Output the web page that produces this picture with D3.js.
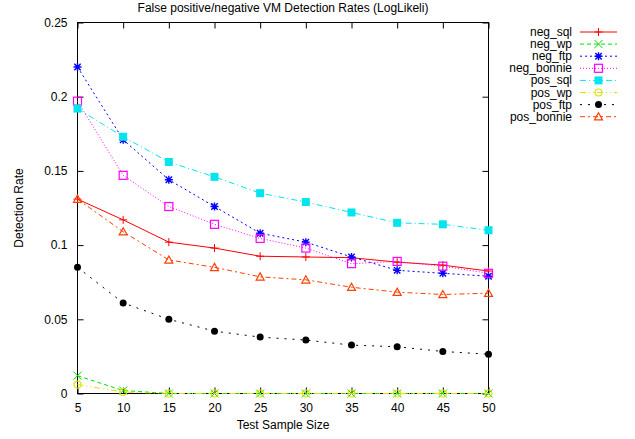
<!DOCTYPE html>
<html><head><meta charset="utf-8">
<script src="https://cdn.jsdelivr.net/npm/d3@7"></script>
<style>body{margin:0;background:#fff}svg{display:block}text{font-family:"Liberation Sans",Arial,sans-serif;}</style>
</head><body><svg id="c" width="635" height="439"></svg>
<script>
const sampleSizes = [5,10,15,20,25,30,35,40,45,50];
const yTicks = [0,0.05,0.1,0.15,0.2,0.25];
const yTickLabels = ["0","0.05","0.1","0.15","0.2","0.25"];
const seriesNames = ["neg_sql","neg_wp","neg_ftp","neg_bonnie","pos_sql","pos_wp","pos_ftp","pos_bonnie"];
const neg_sql    = [0.131,0.117,0.102,0.098,0.0925,0.092,0.0915,0.0885,0.0865,0.0825];
const neg_wp     = [0.012,0.002,0,0,0,0,0,0,0,0];
const neg_ftp    = [0.220,0.171,0.144,0.126,0.108,0.102,0.092,0.083,0.081,0.079];
const neg_bonnie = [0.197,0.147,0.126,0.114,0.1045,0.098,0.0875,0.089,0.0858,0.081];
const pos_sql    = [0.192,0.173,0.156,0.146,0.135,0.129,0.122,0.115,0.114,0.110];
const pos_wp     = [0.006,0.001,0,0,0,0,0,0,0,0];
const pos_ftp    = [0.085,0.061,0.050,0.042,0.038,0.036,0.0326,0.0315,0.0283,0.0265];
const pos_bonnie = [0.131,0.109,0.090,0.085,0.0786,0.0766,0.0716,0.0683,0.0667,0.0676];
const seriesValues = [neg_sql,neg_wp,neg_ftp,neg_bonnie,pos_sql,pos_wp,pos_ftp,pos_bonnie];

const styles = [
  {c:"#ff0000", d:null, m:"plus"},
  {c:"#00e000", d:"4,3", m:"x"},
  {c:"#0000ff", d:"2,3", m:"star"},
  {c:"#ff00ff", d:"1,2", m:"osq"},
  {c:"#00e5ee", d:"6,3,1,3", m:"fsq"},
  {c:"#e0e000", d:"6,3,1,3,1,3", m:"ocirc"},
  {c:"#000000", d:"2,6", m:"fcirc"},
  {c:"#ff4000", d:"5,3,2,3", m:"tri"}
];

const svg = d3.select("#c");
const L=77.5, R=488.5, T=22.5, B=393.5;
const x = d3.scaleLinear().domain([5,50]).range([L,R]);
const y = d3.scaleLinear().domain([0,0.25]).range([B,T]);

// frame
svg.append("rect").attr("x",L).attr("y",T).attr("width",R-L).attr("height",B-T)
  .attr("fill","none").attr("stroke","#000").attr("stroke-width",1);

// axes with inward ticks, mirrored
const xAxB = d3.axisBottom(x).tickValues(sampleSizes).tickSize(-6).tickPadding(10).tickFormat(d3.format("d"));
const xAxT = d3.axisTop(x).tickValues(sampleSizes).tickSize(-6).tickFormat("");
const yAxL = d3.axisLeft(y).tickValues(yTicks).tickSize(-6).tickPadding(10).tickFormat((d,i)=>yTickLabels[i]);
const yAxR = d3.axisRight(y).tickValues(yTicks).tickSize(-6).tickFormat("");
function styleAxis(g){g.select(".domain").remove();g.selectAll("line").attr("stroke","#000");g.selectAll("text").attr("font-size",12).attr("fill","#000").attr("font-family","Liberation Sans, Arial, sans-serif");}
svg.append("g").attr("transform",`translate(0,${B})`).call(xAxB).call(styleAxis);
svg.append("g").attr("transform",`translate(0,${T})`).call(xAxT).call(styleAxis);
svg.append("g").attr("transform",`translate(${L},0)`).call(yAxL).call(styleAxis);
svg.append("g").attr("transform",`translate(${R},0)`).call(yAxR).call(styleAxis);

// labels
svg.append("text").attr("x",(L+R)/2).attr("y",12).attr("text-anchor","middle").attr("font-size",12).text("False positive/negative VM Detection Rates (LogLikeli)");
svg.append("text").attr("x",(L+R)/2).attr("y",429).attr("text-anchor","middle").attr("font-size",12).text("Test Sample Size");
svg.append("text").attr("transform",`translate(23,${(T+B)/2}) rotate(-90)`).attr("text-anchor","middle").attr("font-size",12).text("Detection Rate");

function marker(g, type, cx, cy, col){
  const s=4;
  if(type==="plus"){
    g.append("path").attr("d",`M${cx-s},${cy}H${cx+s}M${cx},${cy-s}V${cy+s}`).attr("stroke",col).attr("stroke-width",1);
  } else if(type==="x"){
    g.append("path").attr("d",`M${cx-s},${cy-s}L${cx+s},${cy+s}M${cx-s},${cy+s}L${cx+s},${cy-s}`).attr("stroke",col).attr("stroke-width",1);
  } else if(type==="star"){
    g.append("path").attr("d",`M${cx-s},${cy}H${cx+s}M${cx},${cy-s}V${cy+s}M${cx-s*0.8},${cy-s*0.8}L${cx+s*0.8},${cy+s*0.8}M${cx-s*0.8},${cy+s*0.8}L${cx+s*0.8},${cy-s*0.8}`).attr("stroke",col).attr("stroke-width",1.4);
  } else if(type==="osq"){
    g.append("rect").attr("x",cx-s).attr("y",cy-s).attr("width",2*s).attr("height",2*s).attr("fill","none").attr("stroke",col).attr("stroke-width",1.2);
  } else if(type==="fsq"){
    g.append("rect").attr("x",cx-s).attr("y",cy-s).attr("width",2*s).attr("height",2*s).attr("fill",col);
  } else if(type==="ocirc"){
    g.append("circle").attr("cx",cx).attr("cy",cy).attr("r",s-0.5).attr("fill","none").attr("stroke",col).attr("stroke-width",1.2);
  } else if(type==="fcirc"){
    g.append("circle").attr("cx",cx).attr("cy",cy).attr("r",s-0.5).attr("fill",col);
  } else if(type==="tri"){
    g.append("path").attr("d",`M${cx},${cy-s}L${cx+s},${cy+s*0.8}L${cx-s},${cy+s*0.8}Z`).attr("fill","none").attr("stroke",col).attr("stroke-width",1.2);
  }
}

const line = d3.line().x((d,i)=>x(sampleSizes[i])).y(d=>y(d));
seriesValues.forEach((vals,k)=>{
  const st=styles[k];
  const g=svg.append("g");
  g.append("path").datum(vals).attr("d",line).attr("fill","none").attr("stroke",st.c).attr("stroke-width",1)
    .attr("stroke-dasharray",st.d);
  vals.forEach((v,i)=>marker(g,st.m,x(sampleSizes[i]),y(v),st.c));
});

// legend
seriesNames.forEach((n,k)=>{
  const st=styles[k];
  const ly=32+k*12.1;
  svg.append("text").attr("x",572).attr("y",ly+4).attr("text-anchor","end").attr("font-size",12).text(n);
  svg.append("line").attr("x1",580).attr("x2",617).attr("y1",ly).attr("y2",ly).attr("stroke",st.c).attr("stroke-width",1).attr("stroke-dasharray",st.d);
  marker(svg.append("g"),st.m,598.5,ly,st.c);
});
</script></body></html>
